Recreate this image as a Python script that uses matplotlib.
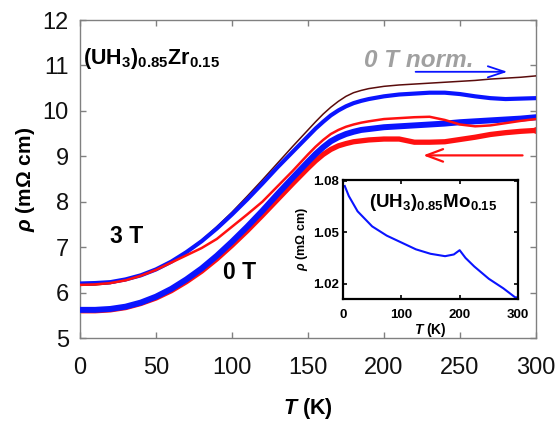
import matplotlib
matplotlib.use("Agg")
import matplotlib.pyplot as plt
import numpy as np

plt.rcParams['font.family'] = ['Liberation Sans', 'DejaVu Sans']
plt.rcParams['mathtext.fontset'] = 'custom'
plt.rcParams['mathtext.rm'] = 'Liberation Sans'
plt.rcParams['mathtext.it'] = 'Liberation Sans:italic'
plt.rcParams['mathtext.bf'] = 'Liberation Sans:bold'
plt.rcParams['mathtext.bfit'] = 'Liberation Sans:bold:italic'

# ---- data ----
T = [0, 10, 20, 30, 40, 50, 60, 70, 80, 90, 100, 110, 120, 130, 140, 150, 155,
     160, 165, 170, 175, 180, 185, 190, 200, 210, 220, 230, 240, 250, 260, 270,
     280, 290, 300]

rho_0T_norm = [6.16, 6.17, 6.20, 6.27, 6.37, 6.50, 6.68, 6.90, 7.15, 7.45, 7.77,
               8.12, 8.48, 8.85, 9.22, 9.58, 9.76, 9.93, 10.08, 10.21, 10.32,
               10.40, 10.45, 10.49, 10.54, 10.57, 10.59, 10.61, 10.63, 10.65,
               10.67, 10.70, 10.72, 10.74, 10.77]

rho_3T_blue = [6.20, 6.21, 6.23, 6.29, 6.38, 6.51, 6.68, 6.89, 7.13, 7.41, 7.72,
               8.05, 8.40, 8.76, 9.10, 9.44, 9.61, 9.76, 9.90, 10.01, 10.10,
               10.17, 10.22, 10.26, 10.32, 10.36, 10.38, 10.40, 10.40, 10.37,
               10.32, 10.28, 10.26, 10.27, 10.28]

rho_3T_red = [6.17, 6.18, 6.21, 6.27, 6.37, 6.50, 6.66, 6.82, 6.98, 7.18, 7.45,
              7.72, 8.00, 8.34, 8.68, 9.04, 9.21, 9.36, 9.49, 9.58, 9.65,
              9.70, 9.74, 9.77, 9.82, 9.84, 9.86, 9.87, 9.80, 9.70, 9.66,
              9.68, 9.73, 9.78, 9.82]

rho_0T_blue = [5.62, 5.62, 5.64, 5.69, 5.78, 5.91, 6.08, 6.29, 6.53, 6.81, 7.12,
               7.45, 7.80, 8.17, 8.53, 8.88, 9.05, 9.20, 9.33, 9.42, 9.49,
               9.54, 9.58, 9.60, 9.64, 9.66, 9.68, 9.70, 9.72, 9.75, 9.77,
               9.79, 9.81, 9.83, 9.86]

rho_0T_red = [5.60, 5.60, 5.62, 5.67, 5.76, 5.88, 6.04, 6.24, 6.47, 6.74, 7.04,
              7.36, 7.70, 8.05, 8.40, 8.74, 8.90, 9.04, 9.15, 9.23, 9.28,
              9.32, 9.34, 9.36, 9.38, 9.38, 9.31, 9.31, 9.32, 9.37, 9.42,
              9.48, 9.52, 9.55, 9.57]

T_mo = [3, 10, 25, 50, 75, 100, 125, 150, 175, 190, 200, 210, 225, 250, 275, 295, 300]
rho_mo = [1.077, 1.0711, 1.0622, 1.0534, 1.048, 1.044, 1.040, 1.0374, 1.036,
          1.037, 1.0395, 1.035, 1.030, 1.0228, 1.0172, 1.012, 1.0119]

xticks = [0, 50, 100, 150, 200, 250, 300]
yticks = [5, 6, 7, 8, 9, 10, 11, 12]
inset_xticks = [0, 100, 200, 300]
inset_yticks = [1.02, 1.05, 1.08]

BLUE = '#0a14ff'
RED = '#ff1010'
BROWN = '#5a0c0c'
GRAY = '#808080'

fig = plt.figure(figsize=(5.59, 4.22), dpi=100)
ax = fig.add_axes([0.1431, 0.199, 0.8157, 0.7536])

ax.plot(T, rho_0T_red, color=RED, lw=3.8, zorder=2, solid_capstyle='round')
ax.plot(T, rho_0T_blue, color=BLUE, lw=4.3, zorder=3, solid_capstyle='round')
ax.plot(T, rho_0T_norm, color=BROWN, lw=1.1, zorder=4)
ax.plot(T, rho_3T_blue, color=BLUE, lw=3.0, zorder=5)
ax.plot(T, rho_3T_red, color=RED, lw=1.8, zorder=6)
ax.plot([T[-1]], [rho_0T_red[-1]], 'o', ms=4, mfc='none', mec=RED, mew=1, zorder=2)

ax.set_xlim(0, 300)
ax.set_ylim(5, 12)
ax.set_xticks(xticks)
ax.set_yticks(yticks)
for s in ax.spines.values():
    s.set_color(GRAY)
    s.set_linewidth(1.0)
ax.tick_params(axis='both', which='both', direction='in', top=True, right=True,
               color=GRAY, length=4, width=1, labelsize=17, labelcolor='#111111')
ax.tick_params(axis='x', pad=14)
ax.tick_params(axis='y', pad=8)
ax.set_xlabel(r'$\mathbfit{T}$ (K)', fontsize=15.5, fontweight='bold', labelpad=12)
ax.set_ylabel(r'$\mathbfit{\rho}$ (m$\mathbf{\Omega}$ cm)', fontsize=15,
              fontweight='bold', labelpad=4)

ax.text(2, 11.15, r'$\mathbf{(UH_3)_{0.85}Zr_{0.15}}$', fontsize=15.5, va='center', ha='left')
ax.text(187, 11.1, '0 T norm.', fontsize=17.5, fontweight='bold', style='italic',
        color='#a0a0a0', va='center', ha='left')
ax.text(20, 7.24, '3 T', fontsize=16.5, fontweight='bold', va='center', ha='left')
ax.text(94, 6.45, '0 T', fontsize=16.5, fontweight='bold', va='center', ha='left')

ax.annotate('', xy=(283, 10.86), xytext=(219, 10.86),
            arrowprops=dict(arrowstyle='->,head_length=1.2,head_width=0.4',
                            color=BLUE, lw=1.3))
ax.annotate('', xy=(224, 9.02), xytext=(293, 9.02),
            arrowprops=dict(arrowstyle='->,head_length=1.2,head_width=0.45',
                            color=RED, lw=1.6))

# ---- inset ----
ins = fig.add_axes([0.6136, 0.2915, 0.3130, 0.2820])
ins.plot(T_mo, rho_mo, color=BLUE, lw=1.5)
ins.set_xlim(0, 300)
ins.set_ylim(1.011, 1.0805)
ins.set_xticks(inset_xticks)
ins.set_yticks(inset_yticks)
ins.set_yticklabels(['1.02', '1.05', '1.08'])
for s in ins.spines.values():
    s.set_color('black')
    s.set_linewidth(1.6)
ins.tick_params(axis='both', direction='in', top=True, right=True, length=3,
                width=1.2, labelsize=9.5)
for lab in ins.get_xticklabels() + ins.get_yticklabels():
    lab.set_fontweight('bold')
ins.tick_params(axis='x', pad=7)
ins.tick_params(axis='y', pad=3)
ins.set_xlabel(r'$\mathbfit{T}$ (K)', fontsize=10, fontweight='bold', labelpad=0)
ins.set_ylabel(r'$\mathbfit{\rho}$ (m$\mathbf{\Omega}$ cm)', fontsize=9,
               fontweight='bold', labelpad=2)
ins.text(45, 1.0675, r'$\mathbf{(UH_3)_{0.85}Mo_{0.15}}$', fontsize=13.5,
         va='center', ha='left')

fig.savefig('out.png', dpi=100)
